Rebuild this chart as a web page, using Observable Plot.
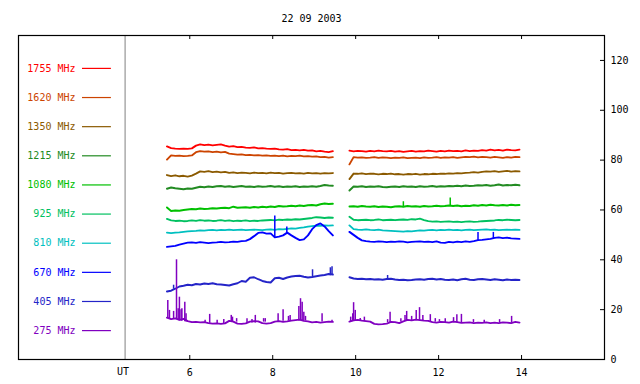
<!DOCTYPE html>
<html><head><meta charset="utf-8">
<script src="https://cdn.jsdelivr.net/npm/d3@7"></script>
<script src="https://cdn.jsdelivr.net/npm/@observablehq/plot@0.6"></script>
<style>body{margin:0;background:#fff}</style>
</head><body><div id="chart"></div>
<script>
const title = "22 09 2003";
const freqs = ["1755 MHz","1620 MHz","1350 MHz","1215 MHz","1080 MHz","925 MHz","810 MHz","670 MHz","405 MHz","275 MHz"];
const xTicks = [6, 8, 10, 12, 14];
const yTicks = [0, 20, 40, 60, 80, 100, 120];
const xLabelUT = "UT";
// sampling grid of each recording segment (UT hours)
const seg1Start = 5.45, seg2Start = 9.85, sampleStep = 0.1;

const f1755a = [85.5,84.8,84.6,84.5,84.6,84.5,84.7,85.8,86.3,86.0,86.2,85.9,86.1,86.3,85.8,85.4,85.6,85.2,85.3,85.0,84.9,85.1,84.7,84.8,84.6,84.5,84.6,84.3,84.2,84.4,84.0,84.1,83.9,84.1,83.8,83.9,83.5,83.7,83.4,83.2,83.6];
const f1755b = [83.8,83.5,83.7,83.6,83.4,83.7,83.5,83.8,83.6,83.5,83.7,83.4,83.6,83.3,83.5,83.7,83.4,83.6,83.5,83.8,83.6,83.4,83.7,83.5,83.8,83.6,83.7,83.5,83.9,83.6,83.8,83.7,84.0,83.8,84.2,83.9,84.1,83.8,84.2,84.0,83.9,84.2];
const f1620a = [80.2,81.9,81.7,81.8,81.6,81.7,81.9,83.2,83.6,83.4,83.5,83.2,83.4,83.1,83.3,82.6,82.4,82.2,82.3,82.0,82.1,81.9,82.0,81.8,81.9,81.7,81.8,81.6,81.8,81.5,81.7,81.6,81.8,81.5,81.6,81.4,81.5,81.2,81.3,81.0,81.2];
const f1620b = [78.3,81.2,81.0,81.1,80.9,81.0,81.2,80.9,81.1,81.0,80.8,81.0,80.9,81.1,80.8,80.9,81.0,80.8,81.1,80.9,81.0,81.2,80.9,81.1,81.0,81.2,80.9,81.1,81.3,81.2,81.4,81.1,81.3,81.2,81.0,81.3,81.1,80.9,81.2,81.0,81.3,81.2];
const f1350a = [74.0,73.6,73.9,73.5,73.7,73.4,73.8,74.6,75.5,75.3,75.6,75.2,75.4,75.1,75.3,74.9,75.1,74.8,75.0,74.9,74.7,75.0,74.8,74.9,74.7,75.0,74.8,74.9,74.6,74.8,74.9,74.7,74.8,74.6,74.9,74.7,74.8,74.6,74.8,74.7,74.8];
const f1350b = [72.4,74.6,74.5,74.7,74.4,74.6,74.5,74.3,74.5,74.4,74.6,74.3,74.4,74.2,74.4,74.3,74.5,74.2,74.4,74.3,74.5,74.4,74.6,74.5,74.7,74.6,74.8,74.7,74.9,75.0,75.2,75.0,75.3,75.5,75.4,75.6,75.3,75.5,75.7,75.4,75.6,75.5];
const f1215a = [68.5,69.0,68.7,68.5,68.3,68.6,68.5,68.9,69.3,69.1,69.4,69.2,69.5,69.6,69.3,69.5,69.2,69.4,69.6,69.3,69.4,69.2,69.5,69.3,69.4,69.6,69.3,69.5,69.2,69.4,69.3,69.5,69.2,69.4,69.3,69.5,69.3,69.6,70.0,69.8,69.7];
const f1215b = [67.8,69.4,69.3,69.5,69.2,69.4,69.3,69.5,69.2,69.1,69.3,69.4,69.2,69.5,69.3,69.4,69.2,69.5,69.3,69.4,69.6,69.3,69.5,69.4,69.6,69.5,69.7,69.5,69.8,69.6,69.7,69.9,69.8,70.0,69.7,69.9,70.2,69.8,70.0,69.9,70.1,69.9];
const f1080a = [61.0,59.6,59.8,59.7,60.0,60.2,60.4,60.3,60.6,60.4,60.5,60.7,60.6,60.8,60.9,60.7,61.3,60.9,61.0,61.1,60.9,61.2,61.0,61.3,61.1,61.4,61.2,61.6,61.4,61.5,61.7,61.5,61.8,61.6,61.9,62.0,61.8,62.3,62.6,62.4,62.5];
const f1080b = [61.4,61.5,61.3,61.6,61.4,61.3,61.5,61.2,61.4,61.3,61.1,61.4,61.5,61.3,61.6,61.4,61.5,61.3,61.6,61.4,61.5,61.7,61.5,61.6,61.8,61.6,61.8,61.5,61.7,61.6,61.9,61.7,62.0,61.8,62.1,61.9,61.8,62.0,61.8,62.1,61.9,62.0];
const f925a = [56.4,55.8,55.6,55.7,55.5,55.6,55.8,55.6,55.9,55.7,55.8,55.6,55.7,55.9,55.6,55.8,55.5,55.7,55.6,55.8,55.5,55.7,55.6,55.8,55.9,56.0,55.8,56.1,56.0,56.2,56.1,56.3,56.2,56.4,56.6,56.8,57.1,57.0,56.8,57.0,56.9];
const f925b = [57.3,56.1,55.9,56.0,56.1,55.9,56.0,56.2,55.9,56.0,56.1,55.9,56.1,56.2,56.0,56.3,56.2,56.5,55.9,55.5,55.3,55.4,55.2,55.3,55.4,55.2,55.3,55.1,55.3,55.4,55.2,55.3,55.5,55.6,55.7,55.8,56.0,55.9,56.1,56.0,55.9,56.0];
const f810a = [50.9,50.7,50.9,51.0,51.2,51.4,51.5,51.6,51.8,51.7,51.9,52.0,51.8,52.0,51.9,52.1,51.9,52.0,52.1,51.9,52.0,52.1,52.0,51.9,52.1,52.2,52.0,52.3,52.2,52.4,52.6,52.5,52.8,53.0,53.3,53.5,53.7,53.6,53.8,53.7,53.8];
const f810b = [53.8,52.3,52.1,52.0,52.2,52.0,51.9,52.1,51.8,51.7,51.6,51.5,51.4,51.3,51.5,51.4,51.6,51.8,51.7,51.9,52.0,51.8,52.0,51.9,52.1,51.9,52.0,51.8,52.0,52.1,51.9,52.0,52.1,52.2,52.0,52.1,51.9,52.0,52.1,52.0,52.1,52.0];
const f670a = [45.2,45.4,45.6,46.1,46.5,46.9,47.0,46.8,47.1,46.9,46.7,46.9,47.0,47.2,47.0,47.1,47.3,47.2,47.5,47.6,48.3,49.5,50.8,51.0,50.5,50.6,49.0,49.3,49.8,50.9,49.8,48.8,47.9,48.2,49.8,52.3,53.9,54.6,53.4,51.5,49.8];
const f670b = [51.2,50.0,48.8,47.8,47.5,47.3,47.2,47.4,47.3,47.1,47.3,47.2,47.4,47.3,47.0,47.2,47.3,47.4,47.2,47.3,47.1,47.4,46.9,46.8,47.2,47.0,47.3,47.1,47.4,47.2,47.5,47.9,48.0,48.2,48.4,48.8,49.0,48.7,48.9,48.6,48.5,48.4];
const f405a = [27.3,27.6,28.4,29.3,29.6,30.0,29.8,30.3,30.1,30.5,30.3,30.6,30.2,30.1,29.9,29.7,30.2,30.6,31.5,31.2,32.8,33.0,32.2,31.5,31.1,30.9,32.6,32.8,32.3,32.9,33.3,33.5,33.6,33.2,32.9,33.1,33.4,33.7,33.9,34.3,34.1];
const f405b = [33.0,32.5,32.3,32.4,32.2,32.3,32.1,32.2,32.0,32.3,32.4,32.1,31.9,32.0,31.8,31.9,32.1,32.2,32.0,32.3,32.4,32.1,32.3,32.0,31.9,32.1,31.8,32.2,32.4,32.0,31.9,32.2,32.3,32.1,31.9,32.2,32.0,31.8,32.1,31.9,32.0,31.9];
const f275a = [16.8,16.2,16.5,15.9,16.3,15.4,15.0,15.1,14.9,15.0,14.6,14.4,14.5,14.3,14.5,15.5,15.2,14.4,14.3,14.5,15.2,15.4,15.3,14.6,14.4,14.6,15.2,15.4,15.1,15.3,15.6,15.8,16.0,15.5,15.3,14.9,15.1,14.8,15.0,15.2,15.1];
const f275b = [15.2,15.7,15.9,15.6,15.4,15.2,14.3,14.1,14.2,14.4,15.1,15.0,14.6,15.3,15.9,15.7,16.0,15.8,15.6,15.5,15.0,14.8,15.1,15.0,14.8,15.2,15.0,14.7,14.8,14.9,14.6,14.8,14.7,14.9,14.6,14.8,14.6,14.9,14.8,14.6,15.1,14.8];

// short bursts: [UT hour, low, high]
const spikes1080 = [[11.15,61.3,63.3],[12.28,61.6,64.8]];
const spikes670 = [[8.05,49.0,57.6],[8.34,50.2,53.2],[12.95,47.6,51.0],[13.32,48.3,51.0]];
const spikes405 = [[5.61,28.2,29.8],[8.96,33.0,36.0],[9.39,33.6,36.8],[9.43,33.8,37.2],[10.77,32.0,33.7]];
const spikes275 = [[5.47,16.5,23.7],[5.51,16.2,19.7],[5.61,16.3,19.3],[5.68,16.0,40.0],[5.72,15.8,20.4],[5.75,15.5,25.0],[5.79,15.4,20.0],[5.81,15.3,20.4],[5.88,15.1,23.0],[5.91,15.0,18.4],
  [6.37,14.5,15.7],[6.48,14.5,18.1],[6.66,14.4,15.7],[6.82,14.4,16.0],[7.00,15.0,17.7],[7.03,15.0,17.0],[7.13,15.0,16.4],[7.38,14.5,16.4],[7.50,14.6,16.0],[7.58,14.6,17.7],[7.78,15.0,16.4],[7.82,15.0,16.4],
  [8.13,15.2,18.4],[8.25,15.3,20.0],[8.38,15.4,17.3],[8.42,15.4,17.7],[8.63,15.5,21.3],[8.67,15.5,24.4],[8.71,15.5,23.0],[8.75,15.5,19.0],[8.79,15.5,17.3],[9.19,15.0,18.4],[9.43,15.0,15.7],
  [9.88,15.2,17.0],[9.93,15.5,18.4],[9.95,15.5,22.8],[9.99,15.6,19.7],[10.11,15.5,16.5],[10.21,15.2,17.0],[10.77,14.8,16.0],[10.83,14.8,19.0],[11.09,15.0,16.4],[11.19,15.5,17.7],[11.23,15.5,19.3],
  [11.35,15.7,17.3],[11.46,15.8,19.7],[11.54,15.7,20.8],[11.62,15.6,17.7],[11.80,15.0,18.0],[11.92,15.0,16.4],[12.02,15.0,16.0],[12.16,14.8,16.4],[12.36,14.8,16.8],[12.44,14.8,18.0],[12.55,14.8,18.1],
  [12.84,14.8,16.0],[13.10,14.7,15.7],[13.47,14.8,16.0],[13.76,14.7,17.3]];

const colors = ["#ff0000","#cc4400","#8b5a00","#228b22","#00c000","#00c060","#00c0c0","#0000ff","#2424c8","#8000c0"];

const seriesA = [f1755a,f1620a,f1350a,f1215a,f1080a,f925a,f810a,f670a,f405a,f275a];
const seriesB = [f1755b,f1620b,f1350b,f1215b,f1080b,f925b,f810b,f670b,f405b,f275b];
const rows = [];
freqs.forEach((f, k) => {
  seriesA[k].forEach((v, i) => rows.push({freq: f, key: f + "a", t: seg1Start + i * sampleStep, v}));
  seriesB[k].forEach((v, i) => rows.push({freq: f, key: f + "b", t: seg2Start + i * sampleStep, v}));
});
const spikeRows = [];
[["1080 MHz", spikes1080], ["670 MHz", spikes670], ["405 MHz", spikes405], ["275 MHz", spikes275]].forEach(([f, arr]) =>
  arr.forEach(([t, lo, hi]) => spikeRows.push({freq: f, t, lo, hi})));

const sepHour = 4.44;
const legendTextX = 3.245, legendLineX1 = 3.413, legendLineX2 = 4.11;
const legendTop = 116.8, legendGap = 11.69;
const mT = 35, mB = 25, mL = 18, mR = 36, W = 640, H = 384;
const frameH = H - mT - mB, frameW = W - mL - mR;
const font = "DejaVu Sans Mono";

const chart = Plot.plot({
  width: W, height: H,
  marginLeft: mL, marginRight: mR, marginTop: mT, marginBottom: mB,
  x: {domain: [1.87, 16]},
  y: {domain: [0, 130]},
  color: {domain: freqs, range: colors},
  style: {fontFamily: font, fontSize: "10px", background: "white", color: "black", overflow: "visible"},
  marks: [
    Plot.ruleX([sepHour], {stroke: "#808080", strokeWidth: 1}),
    Plot.line(rows, {x: "t", y: "v", z: "key", stroke: "freq", strokeWidth: 1.9}),
    Plot.ruleX(spikeRows, {x: "t", y1: "lo", y2: "hi", stroke: "freq", strokeWidth: 1.5}),
    Plot.text(freqs, {x: legendTextX, y: (d, i) => legendTop - i * legendGap, text: d => d, fill: d => d, textAnchor: "end", fontSize: 10, fontFamily: font}),
    Plot.ruleY(freqs, {x1: legendLineX1, x2: legendLineX2, y: (d, i) => legendTop - i * legendGap, stroke: d => d, strokeWidth: 1.2}),
    Plot.ruleX(xTicks, {x: d => d, insetTop: frameH - 4, stroke: "black"}),
    Plot.ruleX(xTicks, {x: d => d, insetBottom: frameH - 4, stroke: "black"}),
    Plot.ruleY(yTicks.filter(d => d > 0), {y: d => d, insetLeft: frameW - 4, stroke: "black"}),
    Plot.frame({stroke: "black", strokeWidth: 1.2}),
    Plot.axisX({ticks: xTicks, tickSize: 0, tickPadding: 9, label: null, tickFormat: d => String(d), fontSize: 10, fontFamily: font}),
    Plot.axisY({anchor: "right", ticks: yTicks, tickSize: 0, tickPadding: 6, label: null, tickFormat: d => String(d), fontSize: 10, fontFamily: font}),
    Plot.text([title], {frameAnchor: "top", dy: -17, lineAnchor: "middle", text: d => d, fontSize: 10, fontFamily: font}),
    Plot.text([xLabelUT], {x: sepHour, frameAnchor: "bottom", dy: 12, dx: -2, lineAnchor: "middle", text: d => d, fontSize: 10, fontFamily: font})
  ]
});
document.getElementById("chart").appendChild(chart);
</script>
</body></html>
